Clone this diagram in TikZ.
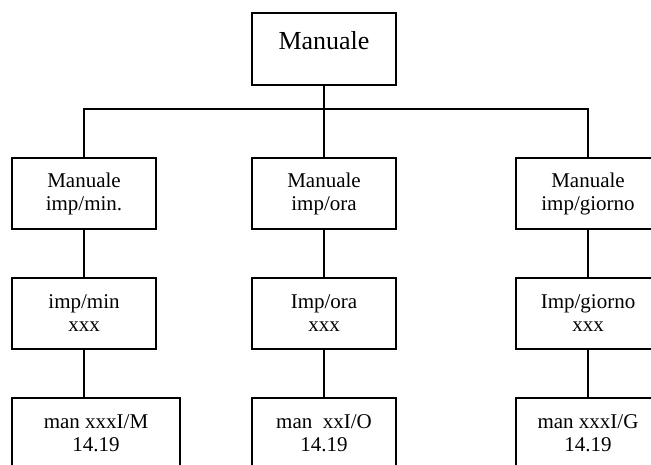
\documentclass[tikz,border=0pt]{standalone}
\usepackage{fontspec}
\setmainfont{Liberation Serif}
\usepackage{tikz}
\usetikzlibrary{positioning,calc}

\begin{document}
\begin{tikzpicture}[x=1pt,y=1pt,line width=1.6pt,
    box/.style={draw,minimum width=144pt,minimum height=71pt,inner sep=0pt,
                align=center,font=\fontsize{21}{23}\selectfont},
    topbox/.style={draw,minimum width=144pt,minimum height=72pt,inner sep=0pt,
                   text height=17pt,text depth=15pt,font=\fontsize{26}{28}\selectfont}]
    \clip (0,0) rectangle (651,464);
    % root
    \node[topbox] (man) at (324,415) {Manuale};
    % first row
    \node[box] (mmin) at (84,270.5)  {Manuale\\imp/min.};
    \node[box] (mora) at (324,270.5) {Manuale\\imp/ora};
    \node[box] (mgio) at (588,270.5) {Manuale\\imp/giorno};
    % second row
    \node[box] (imin) at (84,150.5)  {imp/min\\xxx};
    \node[box] (iora) at (324,150.5) {Imp/ora\\xxx};
    \node[box] (igio) at (588,150.5) {Imp/giorno\\xxx};
    % third row
    \node[box,minimum width=168pt] (cmin) at (96,30.5) {man xxxI/M\\14.19};
    \node[box] (cora) at (324,30.5) {man\ \ xxI/O\\14.19};
    \node[box] (cgio) at (588,30.5) {man xxxI/G\\14.19};
    \coordinate (bus) at (324,355);
    \draw (man.south) -- (mora.north);
    \draw (mmin.north) -- (mmin.north |- bus) -- (mgio.north |- bus) -- (mgio.north);
    \draw (mmin.south) -- (imin.north);
    \draw (mora.south) -- (iora.north);
    \draw (mgio.south) -- (igio.north);
    \draw (imin.south) -- (imin.south |- cmin.north);
    \draw (iora.south) -- (cora.north);
    \draw (igio.south) -- (cgio.north);
  \end{tikzpicture}
\end{document}
